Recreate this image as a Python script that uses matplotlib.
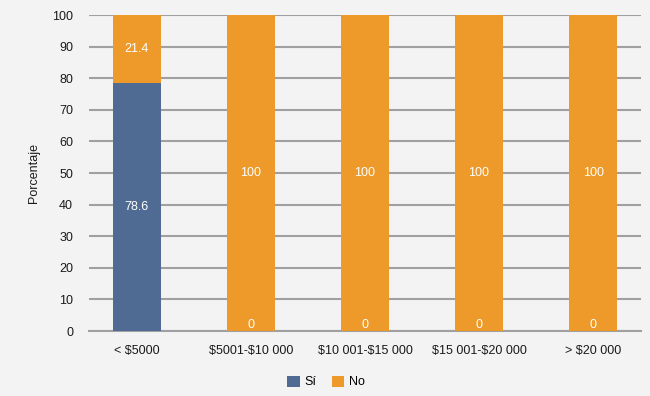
import matplotlib
matplotlib.use("Agg")
import matplotlib.pyplot as plt
import numpy as np

categories = ["< $5000", "$5001-$10 000", "$10 001-$15 000", "$15 001-$20 000", "> $20 000"]
si = [78.6, 0, 0, 0, 0]
no = [21.4, 100, 100, 100, 100]
yticks = [0, 10, 20, 30, 40, 50, 60, 70, 80, 90, 100]

plt.rcParams['font.family'] = ['Liberation Sans', 'DejaVu Sans']
plt.rcParams['text.parse_math'] = False
bg = "#f2f3f2"
blue = "#4f6b93"
orange = "#ee9a2a"
txt = "#1a1a1a"

fig = plt.figure(figsize=(6.5, 3.96), dpi=100, facecolor=bg)
ax = fig.add_axes([89/650, 1-331/396, (641-89)/650, (331-15)/396])
ax.set_facecolor(bg)

x = np.arange(len(categories))
w = 0.42
ax.bar(x, si, w, color=blue, label="Sí", zorder=3)
ax.bar(x, no, w, bottom=si, color=orange, label="No", zorder=3)

for i in range(len(categories)):
    ys = si[i] / 2 if si[i] > 0 else 1.8
    ax.text(x[i], ys, f"{si[i]:g}", ha="center", va="center", color="white", fontsize=9, zorder=4)
    ax.text(x[i], si[i] + no[i] / 2, f"{no[i]:g}", ha="center", va="center", color="white", fontsize=9, zorder=4)

ax.set_xlim(-0.42, len(categories) - 1 + 0.42)
ax.set_ylim(0, 100)
ax.set_yticks(yticks)
ax.yaxis.grid(True, color="#a0a0a0", linewidth=1.5, zorder=0)
ax.set_axisbelow(True)
for s in ["left", "right", "top"]:
    ax.spines[s].set_visible(False)
ax.spines["bottom"].set_color("#a0a0a0")
ax.spines["bottom"].set_linewidth(1.5)
ax.tick_params(axis="both", length=0, labelsize=9, colors=txt)
ax.tick_params(axis="y", pad=11.5)
ax.tick_params(axis="x", pad=10)
ax.set_xticks(x)
ax.set_xticklabels(categories)
ax.set_ylabel("Porcentaje", fontsize=9, color=txt, labelpad=9)

fig.legend(loc="center", bbox_to_anchor=(326/650, 1-382/396), ncol=2, frameon=False,
           fontsize=9, handlelength=1.0, handleheight=1.0, columnspacing=1.2, handletextpad=0.4)

fig.savefig("out.png", dpi=100, facecolor=bg)
